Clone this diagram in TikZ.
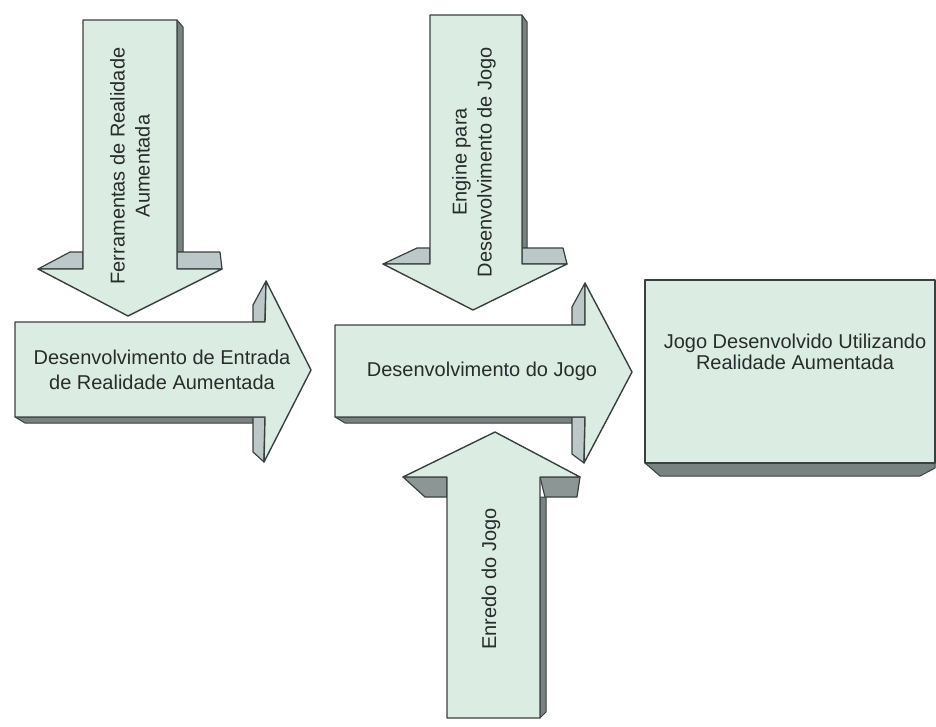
\documentclass[tikz,border=0pt]{standalone}
\usepackage{fontspec}
\setmainfont{Liberation Sans}
\definecolor{facegreen}{RGB}{219,236,226}
\definecolor{edgegrey}{RGB}{58,64,64}
\definecolor{lighttop}{RGB}{188,200,200}
\definecolor{darkunder}{RGB}{140,150,148}
\definecolor{sidestrip}{RGB}{120,130,128}
\definecolor{textgrey}{RGB}{40,44,44}
\tikzset{
  frontface/.style={fill=facegreen, draw=edgegrey, line width=1.4pt, line join=round},
  topface/.style={fill=lighttop, draw=edgegrey, line width=1.2pt, line join=round},
  underface/.style={fill=darkunder, draw=edgegrey, line width=1.2pt, line join=round},
  sideface/.style={fill=sidestrip, draw=edgegrey, line width=1.0pt, line join=round},
  label/.style={text=textgrey, align=center, inner sep=0pt,
    font=\fontsize{20}{25}\selectfont},
}
\begin{document}
\begin{tikzpicture}[x=1pt, y=-1pt]
\useasboundingbox (0,0) rectangle (936,726);
\fill[white] (0,0) rectangle (936,726);

% --- down arrow: Ferramentas de Realidade Aumentada
\draw[sideface] (177,20) -- (183,27) -- (183,252) -- (177,252) -- cycle;
\draw[topface] (38,269) -- (70,252) -- (83,252) -- (83,269) -- cycle;
\draw[topface] (177,252) -- (220,252) -- (222,269) -- (177,269) -- cycle;
\draw[frontface] (83,20) -- (177,20) -- (177,269) -- (222,269) -- (128,316)
  -- (38,269) -- (83,269) -- cycle;
\node[label, rotate=90] (ferramentas) at (130,166)
  {Ferramentas de Realidade\\Aumentada};

% --- down arrow: Engine para Desenvolvimento de Jogo
\draw[sideface] (522,15) -- (527,22) -- (527,248) -- (522,248) -- cycle;
\draw[topface] (383,264) -- (417,248) -- (430,248) -- (430,264) -- cycle;
\draw[topface] (522,248) -- (563,248) -- (567,264) -- (522,264) -- cycle;
\draw[frontface] (430,15) -- (522,15) -- (522,264) -- (567,264) -- (473,310)
  -- (383,264) -- (430,264) -- cycle;
\node[label, rotate=90] (engine) at (474,162)
  {Engine para\\Desenvolvimento de Jogo};

% --- right arrow: Desenvolvimento de Entrada de Realidade Aumentada
\draw[sideface] (15,417) -- (25,423) -- (253,423) -- (253,417) -- cycle;
\draw[topface] (253,322) -- (253,305) -- (266,281) -- (265,322) -- cycle;
\draw[topface] (253,417) -- (253,452) -- (264,462) -- (265,417) -- cycle;
\draw[frontface] (15,322) -- (265,322) -- (266,281) -- (311,370) -- (264,462)
  -- (265,417) -- (15,417) -- cycle;
\node[label] (entrada) at (162,370)
  {Desenvolvimento de Entrada\\de Realidade Aumentada};

% --- right arrow: Desenvolvimento do Jogo
\draw[sideface] (335,417) -- (345,423) -- (572,423) -- (572,417) -- cycle;
\draw[topface] (572,325) -- (572,307) -- (585,283) -- (585,325) -- cycle;
\draw[topface] (572,417) -- (572,454) -- (584,463) -- (585,417) -- cycle;
\draw[frontface] (335,325) -- (585,325) -- (585,283) -- (632,372) -- (584,463)
  -- (585,417) -- (335,417) -- cycle;
\node[label] (desenvolvimento) at (482,371) {Desenvolvimento do Jogo};

% --- up arrow: Enredo do Jogo
\draw[sideface] (540,497) -- (546,497) -- (546,712) -- (540,718) -- cycle;
\draw[underface] (403,477) -- (447,477) -- (447,497) -- (425,497) -- cycle;
\draw[underface] (540,477) -- (580,477) -- (577,497) -- (545,497) -- cycle;
\draw[frontface] (447,718) -- (447,477) -- (403,477) -- (495,432) -- (580,477)
  -- (540,477) -- (540,718) -- cycle;
\node[label, rotate=90] (enredo) at (491,579) {Enredo do Jogo};

% --- result box
\draw[sideface] (645,463) -- (660,476) -- (920,476) -- (935,468) -- (935,463) -- cycle;
\draw[frontface] (645,280) rectangle (935,463);
\node[label, font=\fontsize{20}{21}\selectfont] (resultado) at (795,352)
  {Jogo Desenvolvido Utilizando\\Realidade Aumentada};
\end{tikzpicture}
\end{document}
